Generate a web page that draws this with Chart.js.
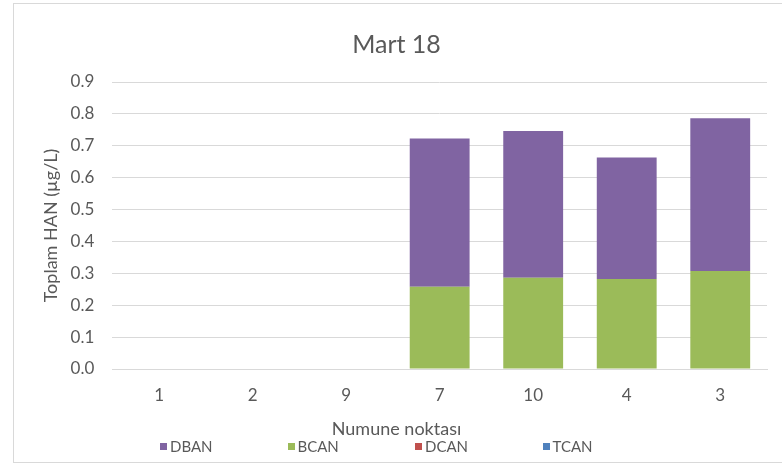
<!DOCTYPE html>
<html>
<head>
<meta charset="utf-8">
<script src="https://cdn.jsdelivr.net/npm/chart.js@4/dist/chart.umd.min.js"></script>
<style>
  html, body { margin: 0; padding: 0; background: #fff; overflow: hidden; }
  body { width: 782px; height: 465px; position: relative; font-family: Lato, "Open Sans", sans-serif; }
  .frame { position: absolute; left: 13px; top: 3px; width: 780px; height: 458px;
           border: 1px solid #d9d9d9; border-right: none; }
  #c { position: absolute; left: 14px; top: 0; }
  #legend { position: absolute; left: 160px; top: 437px; display: flex; margin: 0; padding: 0; list-style: none; }
  #legend li { width: 127.5px; display: flex; align-items: center; font-size: 15px; color: #595959; }
  #legend span { display: inline-block; width: 7px; height: 7px; margin-right: 3px; }
</style>
</head>
<body>
<div class="frame"></div>
<canvas id="c" width="768" height="465"></canvas>
<ul id="legend"></ul>
<script>
// sampling points (x axis)
const points = ["1", "2", "9", "7", "10", "4", "3"];

// stacked from the bottom up: TCAN, DCAN, BCAN, DBAN
const tcan = [0, 0, 0, 0, 0, 0, 0];
const dcan = [0, 0, 0, 0, 0, 0, 0];
const bcan = [0, 0, 0, 0.258, 0.286, 0.282, 0.307];
const dban = [0, 0, 0, 0.465, 0.46, 0.381, 0.479];

const yTicks = [0, 0.1, 0.2, 0.3, 0.4, 0.5, 0.6, 0.7, 0.8, 0.9];

const txt = "#595959";
const font = "Lato, 'Open Sans', sans-serif";

const chart = new Chart(document.getElementById("c"), {
  type: "bar",
  data: {
    labels: points,
    datasets: [
      { label: "TCAN", data: tcan, backgroundColor: "#4f81bd" },
      { label: "DCAN", data: dcan, backgroundColor: "#c0504d" },
      { label: "BCAN", data: bcan, backgroundColor: "#9bbb59" },
      { label: "DBAN", data: dban, backgroundColor: "#8064a2" },
    ],
  },
  options: {
    responsive: false,
    animation: false,
    datasets: { bar: { categoryPercentage: 0.64, barPercentage: 1 } },
    layout: { padding: { left: 12, right: 15, top: 0, bottom: 25 } },
    plugins: {
      legend: { display: false },
      tooltip: { enabled: false },
      title: {
        display: true,
        text: "Mart 18",
        color: txt,
        font: { family: font, size: 25, weight: "normal" },
        padding: { top: 30, bottom: 22 },
      },
      subtitle: {
        display: true,
        position: "bottom",
        weight: 500,
        text: "Numune noktası",
        color: txt,
        font: { family: font, size: 18 },
        padding: { top: -3, bottom: 0 },
      },
    },
    scales: {
      x: {
        stacked: true,
        grid: { display: false, drawTicks: false },
        border: { color: "#d9d9d9" },
        ticks: { color: txt, font: { family: font, size: 17 }, padding: 16 },
      },
      y: {
        stacked: true,
        min: 0,
        max: 0.9,
        afterBuildTicks: (axis) => { axis.ticks = yTicks.map((v) => ({ value: v })); },
        grid: { color: "#d9d9d9", drawTicks: false },
        border: { display: false },
        ticks: {
          color: txt,
          font: { family: font, size: 17 },
          padding: 18,
          callback: (v) => Number(v).toFixed(1),
        },
        title: {
          display: true,
          text: "Toplam HAN (µg/L)",
          color: txt,
          font: { family: font, size: 18 },
          padding: { top: 14, bottom: -9 },
        },
      },
    },
  },
});

// HTML legend, same order as the reference (top series first)
const ul = document.getElementById("legend");
chart.data.datasets.slice().reverse().forEach((ds) => {
  const li = document.createElement("li");
  const box = document.createElement("span");
  box.style.background = ds.backgroundColor;
  li.appendChild(box);
  li.appendChild(document.createTextNode(ds.label));
  ul.appendChild(li);
});
</script>
</body>
</html>
